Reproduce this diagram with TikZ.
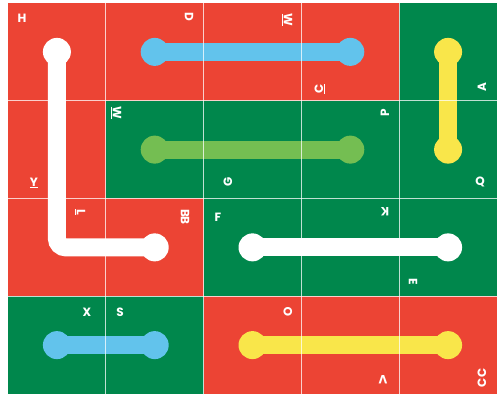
\documentclass[tikz,border=0pt]{standalone}
\usepackage{fontspec}
\setsansfont{Poppins}
\definecolor{redC}{RGB}{236,68,52}
\definecolor{greenC}{RGB}{0,135,76}
\definecolor{blueC}{RGB}{98,195,236}
\definecolor{lgreenC}{RGB}{116,190,82}
\definecolor{yellowC}{RGB}{249,230,74}
\tikzset{
  cellR/.style={fill=redC},
  cellG/.style={fill=greenC},
  dot/.style={circle, fill=#1, minimum size=28pt, inner sep=0pt},
  bar/.style={draw=#1, line width=18pt},
  lbl/.style={text=white, inner sep=0pt, font=\sffamily\bfseries\fontsize{12}{12}\selectfont},
  gridline/.style={draw=white, line width=1.1pt, opacity=0.75}
}
\begin{document}
\begin{tikzpicture}[x=1pt, y=-1pt]
\useasboundingbox (0,0) rectangle (499,395);
\fill[white] (0,0) rectangle (499,395);
% cells: columns start x = 8 + 97.8*i, rows start y = 3 + 97.75*j
\def\cw{97.8}\def\ch{97.75}
\foreach \c/\r/\s in {0/0/cellR,1/0/cellR,2/0/cellR,3/0/cellR,4/0/cellG,
                      0/1/cellR,1/1/cellG,2/1/cellG,3/1/cellG,4/1/cellG,
                      0/2/cellR,1/2/cellR,2/2/cellG,3/2/cellG,4/2/cellG,
                      0/3/cellG,1/3/cellG,2/3/cellR,3/3/cellR,4/3/cellR}
  \path[\s] ({8+\cw*\c},{3+\ch*\r}) rectangle ({8+\cw*(\c+1)},{3+\ch*(\r+1)});
% cell centres
\foreach \c in {0,...,4}
  \foreach \r in {0,...,3}
    \coordinate (c\c\r) at ({8+\cw*(\c+0.5)},{3+\ch*(\r+0.5)});
% end dots
\node[dot=white]   (w1) at (c00) {};
\node[dot=white]   (w2) at (c12) {};
\node[dot=blueC]   (b1) at (c10) {};
\node[dot=blueC]   (b2) at (c30) {};
\node[dot=lgreenC] (g1) at (c11) {};
\node[dot=lgreenC] (g2) at (c31) {};
\node[dot=yellowC] (y1) at (c40) {};
\node[dot=yellowC] (y2) at (c41) {};
\node[dot=white]   (v1) at (c22) {};
\node[dot=white]   (v2) at (c42) {};
\node[dot=blueC]   (s1) at (c03) {};
\node[dot=blueC]   (s2) at (c13) {};
\node[dot=yellowC] (t1) at (c23) {};
\node[dot=yellowC] (t2) at (c43) {};
% connectors
\draw[bar=white, rounded corners=9pt] (w1.center) -- (w1.center |- w2.center) -- (w2.center);
\draw[bar=blueC] (b1.center) -- (b2.center);
\draw[bar=lgreenC] (g1.center) -- (g2.center);
\draw[bar=yellowC] (y1.center) -- (y2.center);
\draw[bar=white] (v1.center) -- (v2.center);
\draw[bar=blueC] (s1.center) -- (s2.center);
\draw[bar=yellowC] (t1.center) -- (t2.center);
% grid lines
\foreach \c in {1,...,4}
  \draw[gridline] ({8+\cw*\c},3) -- ({8+\cw*\c},394);
\foreach \r in {1,...,3}
  \draw[gridline] (8,{3+\ch*\r}) -- (497,{3+\ch*\r});
% labels
\node[lbl] (lH) at (22,18) {H};
\node[lbl, rotate=-90] (lD) at (189,17) {D};
\node[lbl, rotate=-90] (lW1) at (287,20) {\underline{W}};
\node[lbl, rotate=90] (lC) at (320,89) {\underline{C}};
\node[lbl, rotate=90] (lA) at (482,87) {A};
\node[lbl, rotate=-90] (lW2) at (116,113) {\underline{W}};
\node[lbl, rotate=90] (lP) at (385,113) {P};
\node[lbl] (lY) at (34,183) {\underline{Y}};
\node[lbl, rotate=90] (lG) at (228,182) {G};
\node[lbl] (lQ) at (480,182) {Q};
\node[lbl, rotate=-90] (lL) at (80,212) {\underline{L}};
\node[lbl, rotate=-90] (lBB) at (185,217) {BB};
\node[lbl] (lF) at (218,217) {F};
\node[lbl, rotate=180] (lK) at (385,212) {K};
\node[lbl, rotate=-90] (lE) at (413,282) {E};
\node[lbl] (lX) at (87,312) {X};
\node[lbl] (lS) at (120,312) {S};
\node[lbl, rotate=90] (lO) at (288,312) {O};
\node[lbl, rotate=180] (lV) at (383,380) {V};
\node[lbl, rotate=90] (lCC) at (482,378) {CC};
\end{tikzpicture}
\end{document}
